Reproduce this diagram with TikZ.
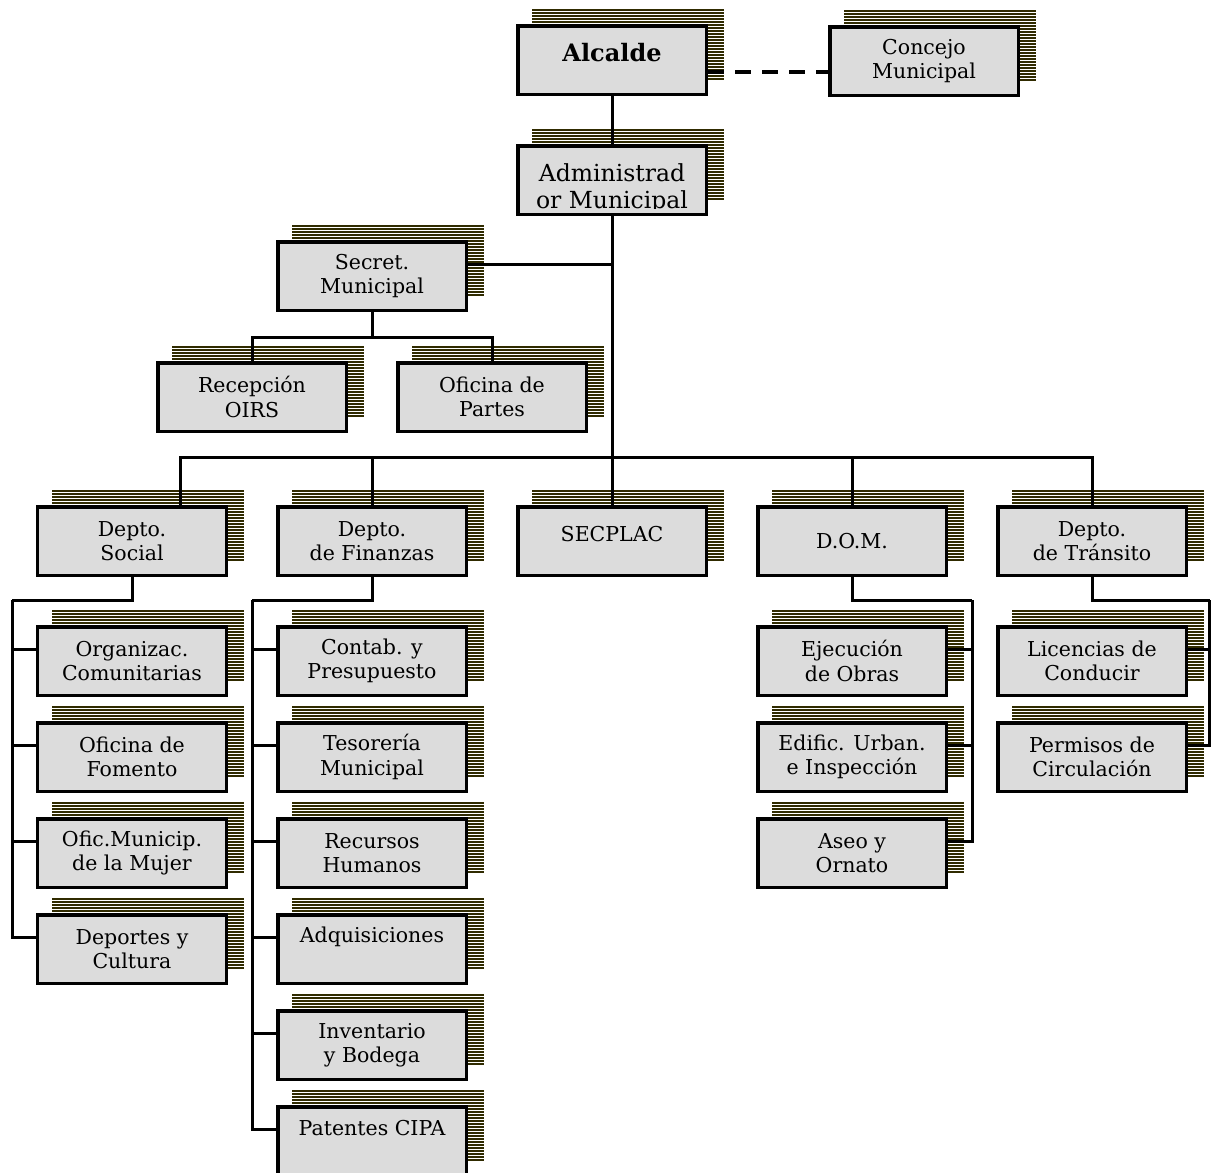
\documentclass[tikz,border=0pt]{standalone}
\usepackage{fontspec}
\setmainfont{DejaVu Serif}
\usetikzlibrary{calc}
\definecolor{boxgray}{RGB}{220,220,220}
\definecolor{olivedark}{RGB}{48,43,0}
\pgfdeclarelayer{bglayer}
\pgfdeclarelayer{shadowlayer}
\pgfdeclarelayer{linelayer}
\pgfsetlayers{bglayer,shadowlayer,linelayer,main}
\tikzset{
  orgnode/.style={draw, line width=3.5bp, fill=boxgray, minimum width=188.5bp, minimum height=68.5bp, inner sep=0pt},
  orgtext/.style={align=center, inner sep=0pt, font=\fontsize{20.5bp}{24.5bp}\selectfont},
  stripe/.style={white, line width=0.7bp},
  conn/.style={line width=3bp, line join=miter},
}
\newcommand\orgbox[5][0]{%
  \node[orgnode] (#2) at (#3,#4) {};
  \node[orgtext] (#2-t) at ([yshift=#1bp]#2.center) {#5};
  \begin{pgfonlayer}{shadowlayer}
    \fill[olivedark] (#3-80,#4-51) rectangle (#3+112,#4+21);
    \foreach \k in {0,...,23} \draw[stripe] (#3-80,#4-48.5+3*\k) -- (#3+112,#4-48.5+3*\k);
  \end{pgfonlayer}
}
\begin{document}
\begin{tikzpicture}[x=1bp,y=-1bp]
\begin{pgfonlayer}{bglayer}
  \fill[white] (0,0) rectangle (1212,1173);
\end{pgfonlayer}
\useasboundingbox (0,0) rectangle (1212,1173);
% top
\orgbox[7]{alc}{612}{60}{\bfseries\fontsize{24bp}{26bp}\selectfont Alcalde}
\orgbox{con}{924}{61}{Concejo\\Municipal}
\orgbox{adm}{612}{180}{}
\begin{scope}
  \clip ([xshift=-2bp]adm.north west) rectangle ([yshift=7.5bp]adm.south east);
  \node[orgtext, font=\fontsize{23.5bp}{27bp}\selectfont] (adm-t) at ([yshift=-9bp]adm.center) {Administrad\\or Municipal};
\end{scope}
\orgbox{sec}{372}{276}{Secret.\\Municipal}
\orgbox{rec}{252}{397}{Recepción\\OIRS}
\orgbox{par}{492}{397}{Oficina de\\Partes}
% departments
\orgbox{soc}{132}{541}{Depto.\\Social}
\orgbox{fin}{372}{541}{Depto.\\de Finanzas}
\orgbox[7]{spl}{612}{541}{SECPLAC}
\orgbox{dom}{852}{541}{D.O.M.}
\orgbox{tra}{1092}{541}{Depto.\\de Tránsito}
% social
\orgbox{s1}{132}{661}{Organizac.\\Comunitarias}
\orgbox{s2}{132}{757}{Oficina de\\Fomento}
\orgbox{s3}{132}{853}{Ofic.Municip.\\de la Mujer}
\orgbox{s4}{132}{949}{Deportes y\\Cultura}
% finanzas
\orgbox{f1}{372}{661}{Contab. y\\Presupuesto}
\orgbox{f2}{372}{757}{Tesorería\\Municipal}
\orgbox{f3}{372}{853}{Recursos\\Humanos}
\orgbox[12]{f4}{372}{949}{Adquisiciones}
\orgbox{f5}{372}{1045}{Inventario\\y Bodega}
\orgbox[13]{f6}{372}{1141}{Patentes CIPA}
% DOM
\orgbox{d1}{852}{661}{Ejecución\\de Obras}
\orgbox{d2}{852}{757}{Edific. Urban.\\e Inspección}
\orgbox{d3}{852}{853}{Aseo y\\Ornato}
% transito
\orgbox{t1}{1092}{661}{Licencias de\\Conducir}
\orgbox{t2}{1092}{757}{Permisos de\\Circulación}
% connectors
\begin{pgfonlayer}{linelayer}
  \coordinate (alr) at ([yshift=-12bp]alc.east);
  \draw[conn, line width=4bp, dash pattern=on 16bp off 11bp] (alr) -- (alr -| con.west);
  \draw[conn] (alc.south) -- (adm.north);
  \draw[conn] (adm.south) -- (spl.north);
  \coordinate (secr) at ([yshift=11.5bp]sec.east);
  \draw[conn] (secr) -- (secr -| adm.south);
  \coordinate (secj) at (372,337);
  \draw[conn] (sec.south) -- (secj);
  \draw[conn] (secj) -| (rec.north);
  \draw[conn] (secj) -| (par.north);
  \coordinate (bus) at (612,457);
  \coordinate (socn) at ([xshift=48bp]soc.north);
  \foreach \d in {socn,fin.north,dom.north,tra.north} \draw[conn] (bus) -| (\d);
  \coordinate (socx) at (12,600);
  \draw[conn] (soc.south) |- (socx);
  \foreach \c in {s1,s2,s3,s4} \draw[conn] (socx) |- ([yshift=12bp]\c.west);
  \coordinate (finx) at (252,600);
  \draw[conn] (fin.south) |- (finx);
  \foreach \c in {f1,f2,f3,f4,f5,f6} \draw[conn] (finx) |- ([yshift=12bp]\c.west);
  \coordinate (domx) at (972,600);
  \draw[conn] (dom.south) |- (domx);
  \foreach \c in {d1,d2,d3} \draw[conn] (domx) |- ([yshift=12bp]\c.east);
  \coordinate (trax) at (1209.5,600);
  \draw[conn] (tra.south) |- (trax);
  \foreach \c in {t1,t2} \draw[conn] (trax) |- ([yshift=12bp]\c.east);
\end{pgfonlayer}
\end{tikzpicture}
\end{document}
